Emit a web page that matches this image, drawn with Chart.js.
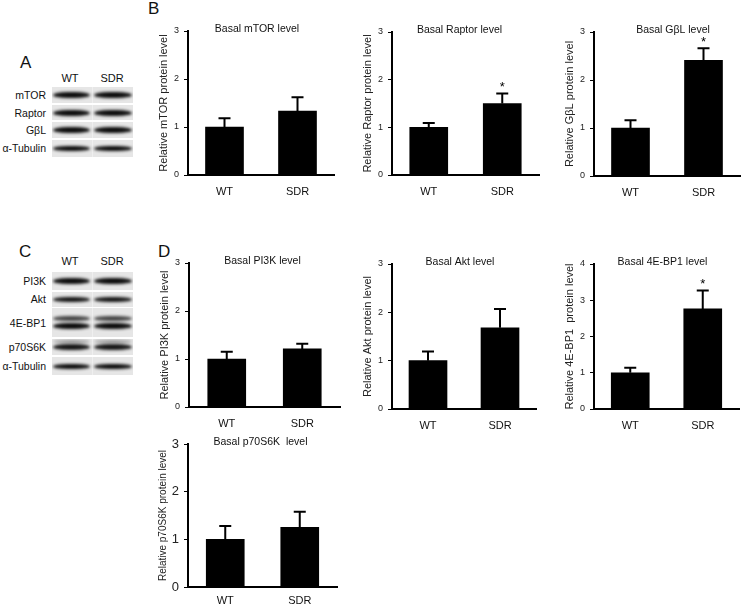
<!DOCTYPE html>
<html>
<head>
<meta charset="utf-8">
<script src="https://cdn.jsdelivr.net/npm/chart.js@4.4.1/dist/chart.umd.min.js"></script>
<style>
  body { margin: 0; background: #fff; width: 743px; height: 606px; position: relative; overflow: hidden;
         font-family: "Liberation Sans", Arial, sans-serif; color: #111; }
  canvas { position: absolute; }
  .letter { position: absolute; font-size: 17px; line-height: 1; transform: translateY(-50%); }
  .strip { position: absolute; left: 52px; width: 81px; background: #e6e6e6; overflow: hidden; }
  .seam { position: absolute; left: 40px; top: 0; bottom: 0; width: 1px; background: #efefef; }
  .band { position: absolute; border-radius: 40% / 50%; filter: blur(1.4px); }
  .blab { position: absolute; left: 0; width: 46px; text-align: right; font-size: 10.5px; line-height: 1; transform: translateY(-50%); color: #111; }
  .head { position: absolute; font-size: 11px; line-height: 1; transform: translate(-50%, -50%); }
</style>
</head>
<body>
<div class="letter" style="left:20px;top:62px">A</div>
<div class="letter" style="left:148px;top:8px">B</div>
<div class="letter" style="left:19px;top:251px">C</div>
<div class="letter" style="left:158px;top:251px">D</div>
<div id="blots"></div>
<div id="charts"></div>

<script>
// groups on the x axis
const groups = ['WT', 'SDR'];

// relative protein levels (mean) and SEM
const mtorMean = [1, 1.33];
const mtorErr = [0.18, 0.29];
const raptorMean = [1, 1.5];
const raptorErr = [0.09, 0.21];
const gblMean = [1, 2.41];
const gblErr = [0.16, 0.25];
const pi3kMean = [1, 1.21];
const pi3kErr = [0.15, 0.11];
const aktMean = [1, 1.68];
const aktErr = [0.19, 0.39];
const ebp1Mean = [1, 2.76];
const ebp1Err = [0.14, 0.51];
const s6kMean = [1, 1.25];
const s6kErr = [0.28, 0.33];

// significance marks
const noSig = ['', ''];
const oneSig = ['', '*'];

// y tick labels
const ticks3 = [0, 1, 2, 3];
const ticks4 = [0, 1, 2, 3, 4];

// --- western blot strips (decoration, drawn with divs) ---
const lanes = [{ x: 1, w: 37 }, { x: 42, w: 38 }];
const blotRows = [
  { label: 'mTOR', top: 87, h: 16, bands: [{ c: 95, t: 6, a: 0.95 }] },
  { label: 'Raptor', top: 105, h: 15, bands: [{ c: 113, t: 6, a: 0.95 }] },
  { label: 'GβL', top: 122, h: 16, bands: [{ c: 130, t: 6, a: 0.95 }] },
  { label: 'α-Tubulin', top: 140, h: 17, bands: [{ c: 148, t: 5, a: 0.95 }] },
  { label: 'PI3K', top: 272, h: 18, bands: [{ c: 281, t: 6, a: 0.95 }] },
  { label: 'Akt', top: 292, h: 15, bands: [{ c: 299, t: 5, a: 0.9 }] },
  { label: '4E-BP1', top: 308, h: 29, bands: [{ c: 318, t: 5, a: 0.7 }, { c: 326, t: 6, a: 0.95 }] },
  { label: 'p70S6K', top: 339, h: 16, bands: [{ c: 341, t: 3, a: 0.35 }, { c: 347, t: 6, a: 0.9 }] },
  { label: 'α-Tubulin', top: 357, h: 18, bands: [{ c: 366, t: 5, a: 0.95 }] }
];
const blotHeads = [78, 261];

let blots = document.getElementById('blots');
let html = '';
blotHeads.forEach((y) => {
  html += `<div class="head" style="left:70px;top:${y}px">WT</div>`;
  html += `<div class="head" style="left:112px;top:${y}px">SDR</div>`;
});
blotRows.forEach((row) => {
  let inner = '<div class="seam"></div>';
  row.bands.forEach((b) => {
    lanes.forEach((l) => {
      inner += `<div class="band" style="left:${l.x}px;width:${l.w}px;top:${b.c - row.top - b.t / 2}px;height:${b.t}px;background:rgba(0,0,0,${b.a})"></div>`;
    });
  });
  html += `<div class="strip" style="top:${row.top}px;height:${row.h}px">${inner}</div>`;
  let mid = row.bands[row.bands.length - 1].c;
  if (row.label === '4E-BP1') mid = row.top + row.h / 2;
  html += `<div class="blab" style="top:${mid}px">${row.label}</div>`;
});
blots.innerHTML = html;

// --- error bars and stars ---
const errorBars = {
  id: 'errorBars',
  afterDatasetsDraw(chart, args, opts) {
    const ctx = chart.ctx;
    const y = chart.scales.y;
    const ds = chart.data.datasets[0];
    const meta = chart.getDatasetMeta(0);
    ctx.save();
    ctx.strokeStyle = '#000';
    ctx.lineWidth = 2;
    meta.data.forEach((bar, i) => {
      const yTop = y.getPixelForValue(ds.data[i] + opts.err[i]);
      const yBase = y.getPixelForValue(ds.data[i]);
      ctx.beginPath();
      ctx.moveTo(bar.x, yBase);
      ctx.lineTo(bar.x, yTop);
      ctx.moveTo(bar.x - 6, yTop);
      ctx.lineTo(bar.x + 6, yTop);
      ctx.stroke();
      if (opts.sig[i]) {
        ctx.fillStyle = '#000';
        ctx.font = '13px "Liberation Sans", Arial, sans-serif';
        ctx.textAlign = 'center';
        ctx.textBaseline = 'middle';
        ctx.fillText(opts.sig[i], bar.x, yTop - 6);
      }
    });
    ctx.restore();
  }
};

// title drawn inside the top of the plot area
const panelTitle = {
  id: 'panelTitle',
  afterDraw(chart, args, opts) {
    const ctx = chart.ctx;
    const a = chart.chartArea;
    ctx.save();
    ctx.fillStyle = '#111';
    ctx.font = opts.size + 'px "Liberation Sans", Arial, sans-serif';
    ctx.textAlign = 'center';
    ctx.textBaseline = 'middle';
    ctx.fillText(opts.text, (a.left + a.right) / 2 + opts.dx, a.top - 2);
    ctx.restore();
  }
};

// placement: axis x, pixel of top tick, pixel of zero, right end of x axis
const panels = [
  { title: 'Basal mTOR level', yTitle: 'Relative mTOR protein level', mean: mtorMean, err: mtorErr, sig: noSig, ticks: ticks3, box: [188, 31, 175, 334], dx: -4 },
  { title: 'Basal Raptor level', yTitle: 'Relative Raptor protein level', mean: raptorMean, err: raptorErr, sig: oneSig, ticks: ticks3, box: [392, 32, 175, 539], dx: -6 },
  { title: 'Basal GβL level', yTitle: 'Relative GβL protein level', mean: gblMean, err: gblErr, sig: oneSig, ticks: ticks3, box: [594, 32, 176, 740], dx: 6 },
  { title: 'Basal PI3K level', yTitle: 'Relative PI3K protein level', mean: pi3kMean, err: pi3kErr, sig: noSig, ticks: ticks3, box: [189, 263, 407, 340], dx: -2 },
  { title: 'Basal Akt level', yTitle: 'Relative Akt protein level', mean: aktMean, err: aktErr, sig: noSig, ticks: ticks3, box: [392, 264, 409, 536], dx: -4 },
  { title: 'Basal 4E-BP1 level', yTitle: 'Relative 4E-BP1  protein level', mean: ebp1Mean, err: ebp1Err, sig: oneSig, ticks: ticks4, box: [594, 264, 409, 739], dx: -4 },
  { title: 'Basal p70S6K  level', yTitle: 'Relative p70S6K protein level', mean: s6kMean, err: s6kErr, sig: noSig, ticks: ticks3, box: [188, 444, 587, 337], dx: -2, big: true }
];

const LEFT = 35, TOP = 14, RIGHT = 6, XH = 30;
const holder = document.getElementById('charts');

panels.forEach((p) => {
  const [ax, top, zero, right] = p.box;
  const c = document.createElement('canvas');
  c.width = right - ax + LEFT + RIGHT;
  c.height = zero - top + TOP + XH;
  c.style.left = (ax - LEFT) + 'px';
  c.style.top = (top - TOP) + 'px';
  holder.appendChild(c);

  new Chart(c.getContext('2d'), {
    type: 'bar',
    data: {
      labels: groups,
      datasets: [{ data: p.mean, backgroundColor: '#000', borderWidth: 0, barThickness: 38 }]
    },
    options: {
      responsive: false,
      animation: false,
      devicePixelRatio: 1,
      layout: { padding: { top: TOP, right: RIGHT, left: 0, bottom: 0 } },
      plugins: {
        legend: { display: false },
        tooltip: { enabled: false },
        errorBars: { err: p.err, sig: p.sig },
        panelTitle: { text: p.title, size: 10.5, dx: p.dx }
      },
      scales: {
        x: {
          grid: { display: false, drawTicks: false },
          border: { display: true, color: '#000', width: 2 },
          ticks: { color: '#111', font: { family: '"Liberation Sans", Arial', size: 11 }, padding: p.big ? 7 : 10 },
          afterFit(s) { s.height = XH; }
        },
        y: {
          min: 0,
          max: p.ticks[p.ticks.length - 1],
          afterBuildTicks(s) { s.ticks = p.ticks.map((v) => ({ value: v })); },
          grid: { drawOnChartArea: false, drawTicks: true, tickLength: 4, color: '#000', lineWidth: 1 },
          border: { display: true, color: '#000', width: 2 },
          ticks: { padding: 5, color: '#222', font: { family: '"Liberation Sans", Arial', size: p.big ? 13 : 9 } },
          title: {
            display: true, text: p.yTitle, color: '#222',
            font: { family: '"Liberation Sans", Arial', size: p.big ? 10 : 11 },
            padding: { top: 4, bottom: 0 }
          },
          afterFit(s) { s.width = LEFT; }
        }
      }
    },
    plugins: [errorBars, panelTitle]
  });
});
</script>
</body>
</html>
